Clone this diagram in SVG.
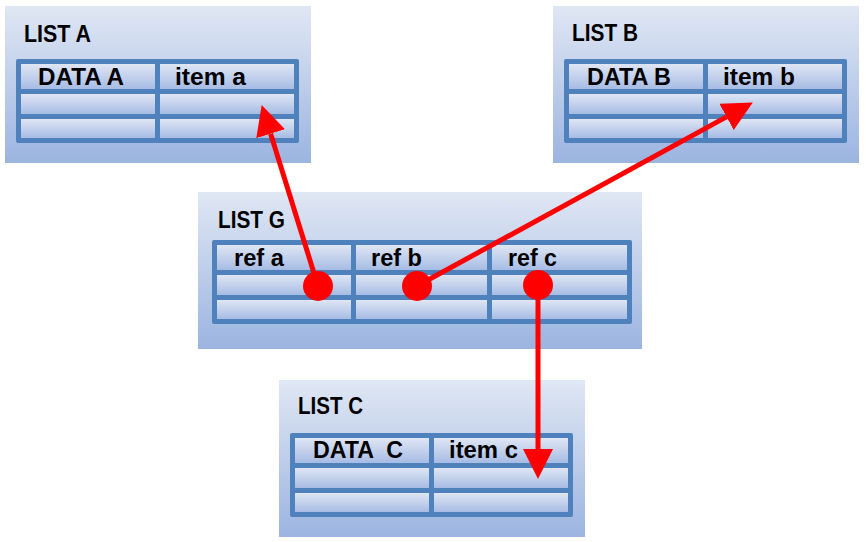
<svg xmlns="http://www.w3.org/2000/svg" width="866" height="542" viewBox="0 0 866 542">
<defs>
<linearGradient id="boxG" x1="0" y1="0" x2="0" y2="1"><stop offset="0" stop-color="#e0e7f4"/><stop offset="1" stop-color="#9bb4e0"/></linearGradient>
<linearGradient id="cellG" x1="0" y1="0" x2="0" y2="1"><stop offset="0" stop-color="#dfe6f4"/><stop offset="1" stop-color="#a7bce4"/></linearGradient>
<marker id="ah" viewBox="0 0 10 10" refX="0" refY="5" markerWidth="6" markerHeight="6" orient="auto" markerUnits="strokeWidth"><path d="M0,0 L10,5 L0,10 z" fill="#ff0000"/></marker>
<style>
.box{fill:url(#boxG)}
.tbl{fill:#4f81bd}
.cell{fill:url(#cellG)}
.t{font-family:"Liberation Sans",Arial,sans-serif;font-weight:bold;font-size:24px;fill:#000;white-space:pre}
.c{stroke:#ff0000;stroke-width:5;fill:none}
.dot{fill:#ff0000}
</style>
</defs>

<g id="listA">
<rect class="box" x="5" y="6" width="306" height="157"/>
<text class="t" x="24" y="41.5" textLength="67" lengthAdjust="spacingAndGlyphs">LIST A</text>
<rect class="tbl" x="16" y="59" width="283" height="84" rx="2"/>
<rect class="cell" x="21" y="64" width="134" height="25"/><rect class="cell" x="160" y="64" width="134" height="25"/>
<rect class="cell" x="21" y="94" width="134" height="20"/><rect class="cell" x="160" y="94" width="134" height="20"/>
<rect class="cell" x="21" y="119" width="134" height="19"/><rect class="cell" x="160" y="119" width="134" height="19"/>
<text class="t" x="38" y="85" textLength="86" lengthAdjust="spacingAndGlyphs">DATA A</text>
<text class="t" x="175" y="85" textLength="71" lengthAdjust="spacingAndGlyphs">item a</text>
</g>

<g id="listB">
<rect class="box" x="553" y="6" width="306" height="157"/>
<text class="t" x="572" y="40.5" textLength="66" lengthAdjust="spacingAndGlyphs">LIST B</text>
<rect class="tbl" x="564" y="59" width="283" height="84" rx="2"/>
<rect class="cell" x="569" y="64" width="134" height="25"/><rect class="cell" x="708" y="64" width="134" height="25"/>
<rect class="cell" x="569" y="94" width="134" height="20"/><rect class="cell" x="708" y="94" width="134" height="20"/>
<rect class="cell" x="569" y="119" width="134" height="19"/><rect class="cell" x="708" y="119" width="134" height="19"/>
<text class="t" x="587" y="84.5" textLength="84" lengthAdjust="spacingAndGlyphs">DATA B</text>
<text class="t" x="723" y="84.5" textLength="72" lengthAdjust="spacingAndGlyphs">item b</text>
</g>

<g id="listG">
<rect class="box" x="198" y="192" width="444" height="157"/>
<text class="t" x="218" y="228" textLength="67" lengthAdjust="spacingAndGlyphs">LIST G</text>
<rect class="tbl" x="212" y="240" width="420" height="84" rx="2"/>
<rect class="cell" x="217" y="245" width="134" height="25"/><rect class="cell" x="356" y="245" width="131" height="25"/><rect class="cell" x="492" y="245" width="135" height="25"/>
<rect class="cell" x="217" y="275" width="134" height="20"/><rect class="cell" x="356" y="275" width="131" height="20"/><rect class="cell" x="492" y="275" width="135" height="20"/>
<rect class="cell" x="217" y="300" width="134" height="19"/><rect class="cell" x="356" y="300" width="131" height="19"/><rect class="cell" x="492" y="300" width="135" height="19"/>
<text class="t" x="234" y="266" textLength="50" lengthAdjust="spacingAndGlyphs">ref a</text>
<text class="t" x="371" y="266" textLength="51" lengthAdjust="spacingAndGlyphs">ref b</text>
<text class="t" x="508" y="266" textLength="49" lengthAdjust="spacingAndGlyphs">ref c</text>
</g>

<g id="listC">
<rect class="box" x="279" y="380" width="306" height="157"/>
<text class="t" x="298" y="414" textLength="65" lengthAdjust="spacingAndGlyphs">LIST C</text>
<rect class="tbl" x="290" y="433" width="283" height="84" rx="2"/>
<rect class="cell" x="295" y="438" width="134" height="25"/><rect class="cell" x="434" y="438" width="134" height="25"/>
<rect class="cell" x="295" y="468" width="134" height="20"/><rect class="cell" x="434" y="468" width="134" height="20"/>
<rect class="cell" x="295" y="493" width="134" height="19"/><rect class="cell" x="434" y="493" width="134" height="19"/>
<text class="t" x="313" y="458" textLength="90" lengthAdjust="spacingAndGlyphs" xml:space="preserve">DATA  C</text>
<text class="t" x="449" y="458" textLength="69" lengthAdjust="spacingAndGlyphs">item c</text>
</g>

<g id="connectors">
<line class="c" x1="318" y1="286" x2="270.6" y2="133.7" marker-end="url(#ah)"/>
<line class="c" x1="417" y1="286" x2="726.5" y2="116.9" marker-end="url(#ah)"/>
<line class="c" x1="538" y1="285" x2="538" y2="449" marker-end="url(#ah)"/>
<circle class="dot" cx="318" cy="286" r="15"/>
<circle class="dot" cx="417" cy="286" r="15"/>
<circle class="dot" cx="538" cy="285" r="15"/>
</g>
</svg>
